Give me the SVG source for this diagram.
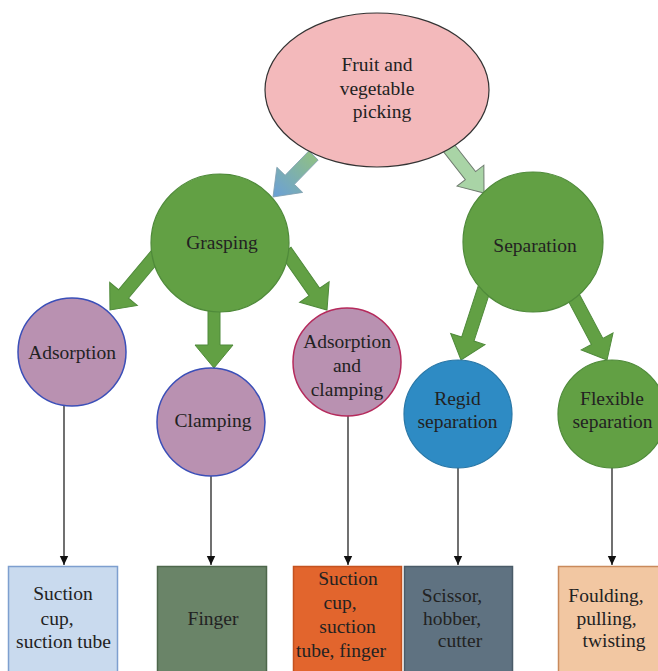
<svg xmlns="http://www.w3.org/2000/svg" width="658" height="671" viewBox="0 0 658 671">
<style>
.t{font-family:"Liberation Serif","Times New Roman",serif;font-size:19.5px;fill:#222;text-anchor:middle}
.ga{fill:#62a044;stroke:#4f8a3a;stroke-width:1}
.gc{fill:#62a044;stroke:#4f8a3a;stroke-width:1.2}
.pc{fill:#b991b1;stroke-width:1.5}
.ln{stroke:#111;stroke-width:1.2;fill:none;marker-end:url(#ah)}
.bx{stroke-width:1.5}
</style>
<defs>
<linearGradient id="g1" x1="0" y1="0" x2="1" y2="0">
<stop offset="0" stop-color="#8fbf86"/>
<stop offset="1" stop-color="#6a9fd8"/>
</linearGradient>
<marker id="ah" markerUnits="userSpaceOnUse" markerWidth="10" markerHeight="10" refX="9" refY="5" orient="auto">
<path d="M0,0.8 L9,5 L0,9.2 Z" fill="#111"/>
</marker>
</defs>
<rect width="658" height="671" fill="#fff"/>
<g id="connectors">
<polygon points="-58,-6.5 -24,-6.5 -24,-18 0,0 -24,18 -24,6.5 -58,6.5" fill="url(#g1)" stroke="#7f9fb0" stroke-width="0.8" transform="translate(273,197) rotate(134.3)"/>
<polygon points="-58,-6.5 -22,-6.5 -22,-17 0,0 -22,17 -22,6.5 -58,6.5" fill="#a9d4a6" stroke="#6e7b6e" stroke-width="1" transform="translate(484,193) rotate(52)"/>
<polygon class="ga" points="-72,-6.5 -21,-6.5 -21,-18 0,0 -21,18 -21,6.5 -72,6.5" transform="translate(110,310) rotate(130)"/>
<polygon class="ga" points="-60,-6 -23,-6 -23,-19 0,0 -23,19 -23,6 -60,6" transform="translate(214,368) rotate(90)"/>
<polygon class="ga" points="-72,-6.5 -22,-6.5 -22,-18 0,0 -22,18 -22,6.5 -72,6.5" transform="translate(327,310) rotate(55)"/>
<polygon class="ga" points="-75,-6.5 -22,-6.5 -22,-18 0,0 -22,18 -22,6.5 -75,6.5" transform="translate(461,360) rotate(108)"/>
<polygon class="ga" points="-75,-6.5 -21,-6.5 -21,-18 0,0 -21,18 -21,6.5 -75,6.5" transform="translate(607,360) rotate(62)"/>
<line class="ln" x1="64" y1="405" x2="64" y2="565"/>
<line class="ln" x1="211" y1="475" x2="211" y2="565"/>
<line class="ln" x1="348" y1="415" x2="348" y2="565"/>
<line class="ln" x1="458" y1="467" x2="458" y2="565"/>
<line class="ln" x1="612" y1="467" x2="612" y2="565"/>
</g>
<g id="root">
<ellipse cx="377" cy="90" rx="112" ry="77" fill="#f3b9bb" stroke="#333" stroke-width="1.2"/>
<text class="t" x="377" y="71">Fruit and</text>
<text class="t" x="377" y="95">vegetable</text>
<text class="t" x="382" y="118">picking</text>
</g>
<g id="grasping">
<circle class="gc" cx="220" cy="243" r="69"/>
<text class="t" x="222" y="249">Grasping</text>
</g>
<g id="separation">
<circle class="gc" cx="533" cy="242" r="70"/>
<text class="t" x="535" y="252">Separation</text>
</g>
<g id="adsorption">
<circle class="pc" cx="72" cy="352" r="54" stroke="#3b4fb8"/>
<text class="t" x="72" y="359">Adsorption</text>
</g>
<g id="clamping">
<circle class="pc" cx="211" cy="422" r="54" stroke="#3b4fb8"/>
<text class="t" x="213" y="427">Clamping</text>
</g>
<g id="adsorption-clamping">
<circle class="pc" cx="347" cy="362" r="54" stroke="#b52a5c"/>
<text class="t" x="347" y="348">Adsorption</text>
<text class="t" x="347" y="372">and</text>
<text class="t" x="347" y="396">clamping</text>
</g>
<g id="regid">
<circle cx="458" cy="414" r="54" fill="#2e8bc4" stroke="#2a77a6" stroke-width="1.2"/>
<text class="t" x="457.5" y="405">Regid</text>
<text class="t" x="457.5" y="428">separation</text>
</g>
<g id="flexible">
<circle class="gc" cx="612" cy="414" r="54"/>
<text class="t" x="612" y="405">Flexible</text>
<text class="t" x="612.5" y="428">separation</text>
</g>
<g id="box-suction">
<rect class="bx" x="8.5" y="566.5" width="109" height="115" fill="#c9daee" stroke="#7e9fcf"/>
<text class="t" x="63" y="600">Suction</text>
<text class="t" x="57" y="625">cup,</text>
<text class="t" x="63.5" y="648">suction tube</text>
</g>
<g id="box-finger">
<rect class="bx" x="157.5" y="566.5" width="109" height="115" fill="#6a8468" stroke="#4e674b"/>
<text class="t" x="213" y="625">Finger</text>
</g>
<g id="box-suction-finger">
<rect class="bx" x="293.5" y="566.5" width="108" height="115" fill="#e2652d" stroke="#c4521f"/>
<text class="t" x="348" y="585">Suction</text>
<text class="t" x="340" y="609">cup,</text>
<text class="t" x="347.5" y="633">suction</text>
<text class="t" x="341" y="657">tube, finger</text>
</g>
<g id="box-scissor">
<rect class="bx" x="404.5" y="566.5" width="108" height="115" fill="#5f7281" stroke="#4a5b68"/>
<text class="t" x="452" y="602">Scissor,</text>
<text class="t" x="452" y="625">hobber,</text>
<text class="t" x="460" y="647">cutter</text>
</g>
<g id="box-foulding">
<rect class="bx" x="558.5" y="566.5" width="110" height="115" fill="#f2c7a2" stroke="#c98a5c"/>
<text class="t" x="606" y="602">Foulding,</text>
<text class="t" x="606.5" y="625">pulling,</text>
<text class="t" x="614" y="647">twisting</text>
</g>
</svg>
